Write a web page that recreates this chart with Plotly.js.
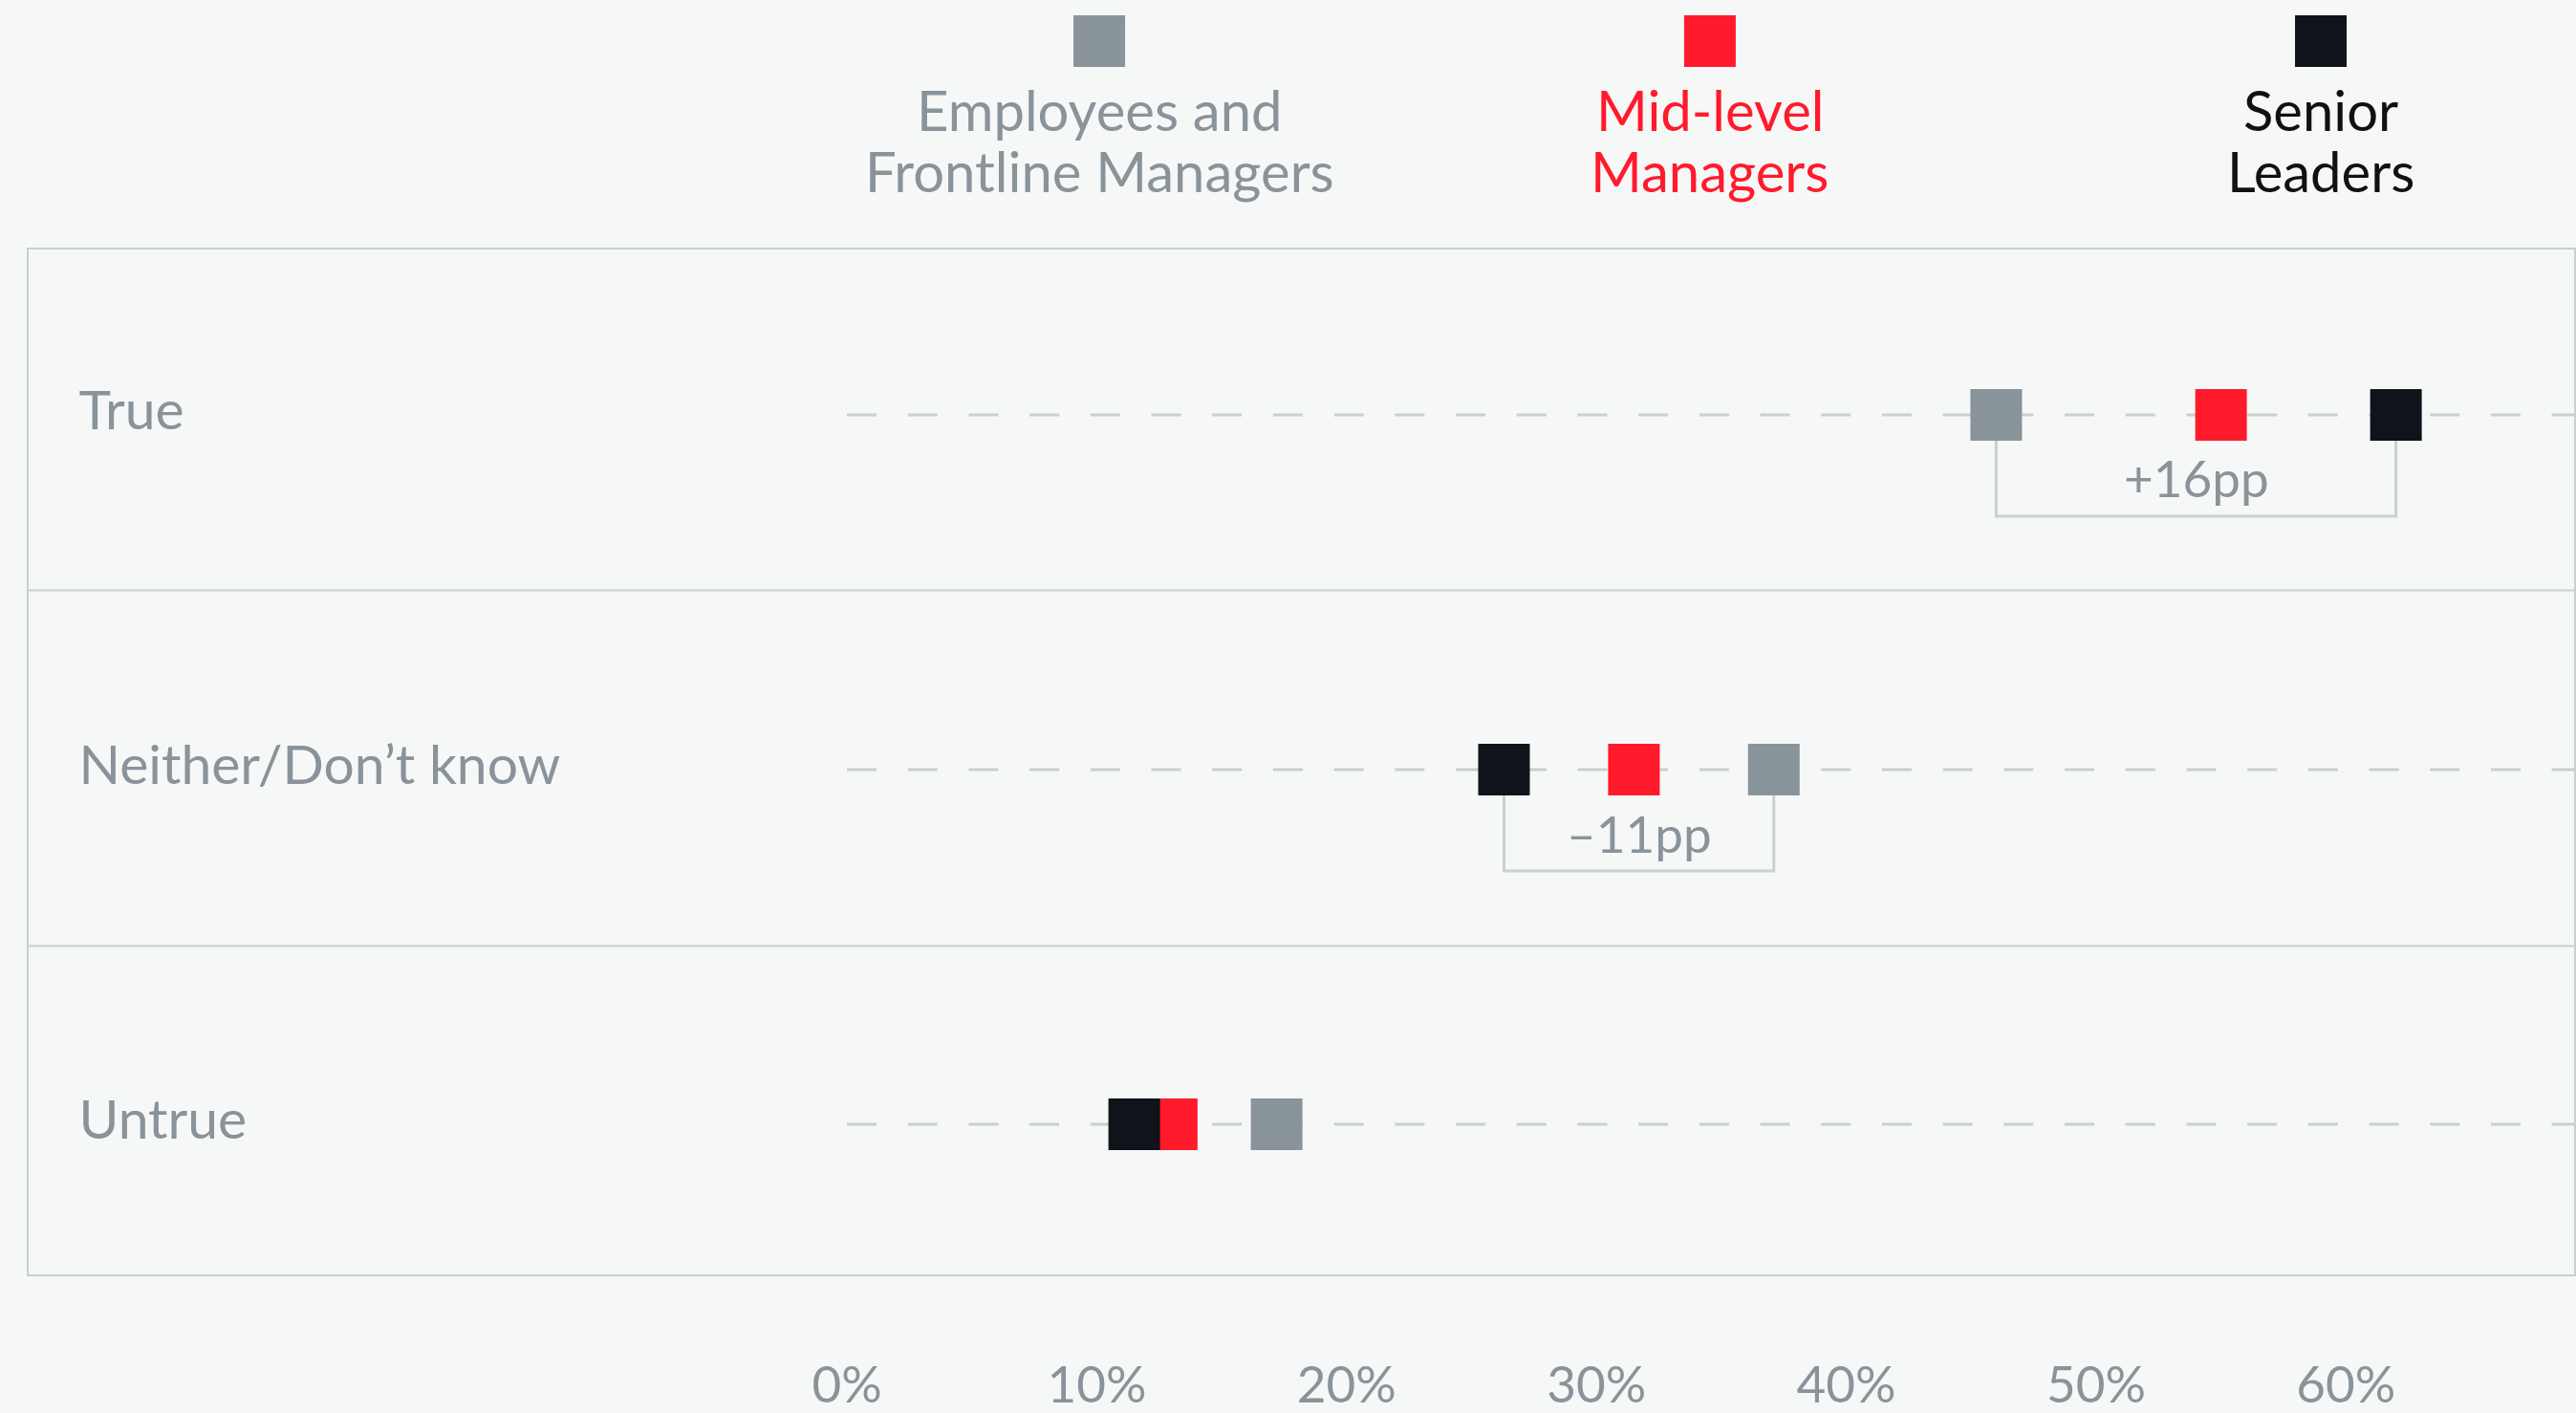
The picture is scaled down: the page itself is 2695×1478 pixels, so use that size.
<!DOCTYPE html>
<html>
<head>
<meta charset="utf-8">
<script src="https://cdn.plot.ly/plotly-3.0.1.min.js"></script>
<style>
html,body{margin:0;padding:0;background:#f6f7f7;}
#chart{width:2695px;height:1478px;}
</style>
</head>
<body>
<div id="chart"></div>
<script>
// ---- data ----
const categories = ["True", "Neither/Don\u2019t know", "Untrue"];
const seriesNames = ["Employees and<br>Frontline Managers", "Mid-level<br>Managers", "Senior<br>Leaders"];
const employees = [46, 37.1, 17.2];
const midLevel = [55, 31.5, 13];
const senior = [62, 26.3, 11.5];
const xTickVals = [0, 10, 20, 30, 40, 50, 60];
const xTickText = ["0%", "10%", "20%", "30%", "40%", "50%", "60%"];
const bracketRows = [0, 1]; // rows with a senior-vs-employees gap bracket

// ---- styles ----
const colors = ["#89939a", "#ff1a2c", "#10131a"];
const legendTextColors = ["#89939a", "#ff1a2c", "#111111"];
const bg = "#f6f7f7";
const lineCol = "#c9d0ce";
const FONT = "Lato, 'Noto Sans', sans-serif";
const XMIN = -32.75, XMAX = 69.13;

const yIdx = categories.map((c, i) => i);
const allSeries = [employees, midLevel, senior];

const traces = allSeries.map((vals, s) => ({
  type: "scatter",
  mode: "markers",
  x: vals,
  y: yIdx,
  name: seriesNames[s].replace("<br>", " "),
  marker: {symbol: "square", size: 54, color: colors[s], line: {width: 0}},
  showlegend: false,
  hoverinfo: "x+name",
  cliponaxis: false
}));

const shapes = [];
// dashed guide lines
yIdx.forEach(i => {
  shapes.push({type: "line", xref: "x", yref: "y", x0: 0, x1: XMAX, y0: i, y1: i,
    line: {color: lineCol, width: 3, dash: "31px,32.7px"}, layer: "below"});
});
// row separators
[0.495, 1.497].forEach(y => {
  shapes.push({type: "line", xref: "paper", yref: "y", x0: 0, x1: 1, y0: y, y1: y,
    line: {color: lineCol, width: 2}, layer: "below"});
});
// brackets
const annotations = [];
bracketRows.forEach(i => {
  const a = employees[i], b = senior[i];
  const top = 0.073, bot = 0.286;
  shapes.push({type: "path", xref: "x", yref: "y",
    path: `M ${a},${i + top} L ${a},${i + bot} L ${b},${i + bot} L ${b},${i + top}`,
    line: {color: lineCol, width: 3}, layer: "below"});
  const diff = Math.round(b - a);
  annotations.push({xref: "x", yref: "y", x: (a + b) / 2, y: i + 0.178,
    text: (diff > 0 ? "+" : "\u2013") + Math.abs(diff) + "pp",
    showarrow: false, xanchor: "center", yanchor: "middle",
    font: {family: FONT, size: 53, color: "#89939a"}});
});
// legend (symbol above two-line label)
const legendX = [0.4206, 0.6605, 0.9005];
seriesNames.forEach((n, s) => {
  shapes.push({type: "rect", xref: "paper", yref: "paper",
    xsizemode: "pixel", ysizemode: "pixel", xanchor: legendX[s], yanchor: 1.2034,
    x0: -27, x1: 27, y0: -27, y1: 27, fillcolor: colors[s], line: {width: 0}});
  const lines = n.split("<br>");
  const ys = [1.1365, 1.0770];
  lines.forEach((t, k) => {
    annotations.push({xref: "paper", yref: "paper", x: legendX[s], y: ys[k],
      text: t, showarrow: false, xanchor: "center", yanchor: "middle",
      font: {family: FONT, size: 58, color: legendTextColors[s]}});
  });
});

const layout = {
  width: 2695, height: 1478,
  margin: {l: 30, r: 2, t: 261, b: 145, pad: 0},
  paper_bgcolor: bg, plot_bgcolor: bg,
  showlegend: false,
  xaxis: {
    range: [XMIN, XMAX], showgrid: false, zeroline: false,
    showline: true, mirror: true, linecolor: lineCol, linewidth: 2,
    tickvals: xTickVals, ticktext: xTickText, ticks: "",
    ticklabelstandoff: 68,
    tickfont: {family: FONT, size: 53, color: "#89939a"},
    fixedrange: true
  },
  yaxis: {
    range: [2.423, -0.466], showgrid: false, zeroline: false,
    showline: true, mirror: true, linecolor: lineCol, linewidth: 2,
    tickvals: yIdx, ticktext: categories, ticks: "",
    ticklabelposition: "inside", ticklabelstandoff: 61, ticklabelshift: 5,
    tickfont: {family: FONT, size: 57, color: "#89939a"},
    fixedrange: true
  },
  shapes: shapes,
  annotations: annotations
};

Plotly.newPlot("chart", traces, layout, {displayModeBar: false, staticPlot: true});
</script>
</body>
</html>
